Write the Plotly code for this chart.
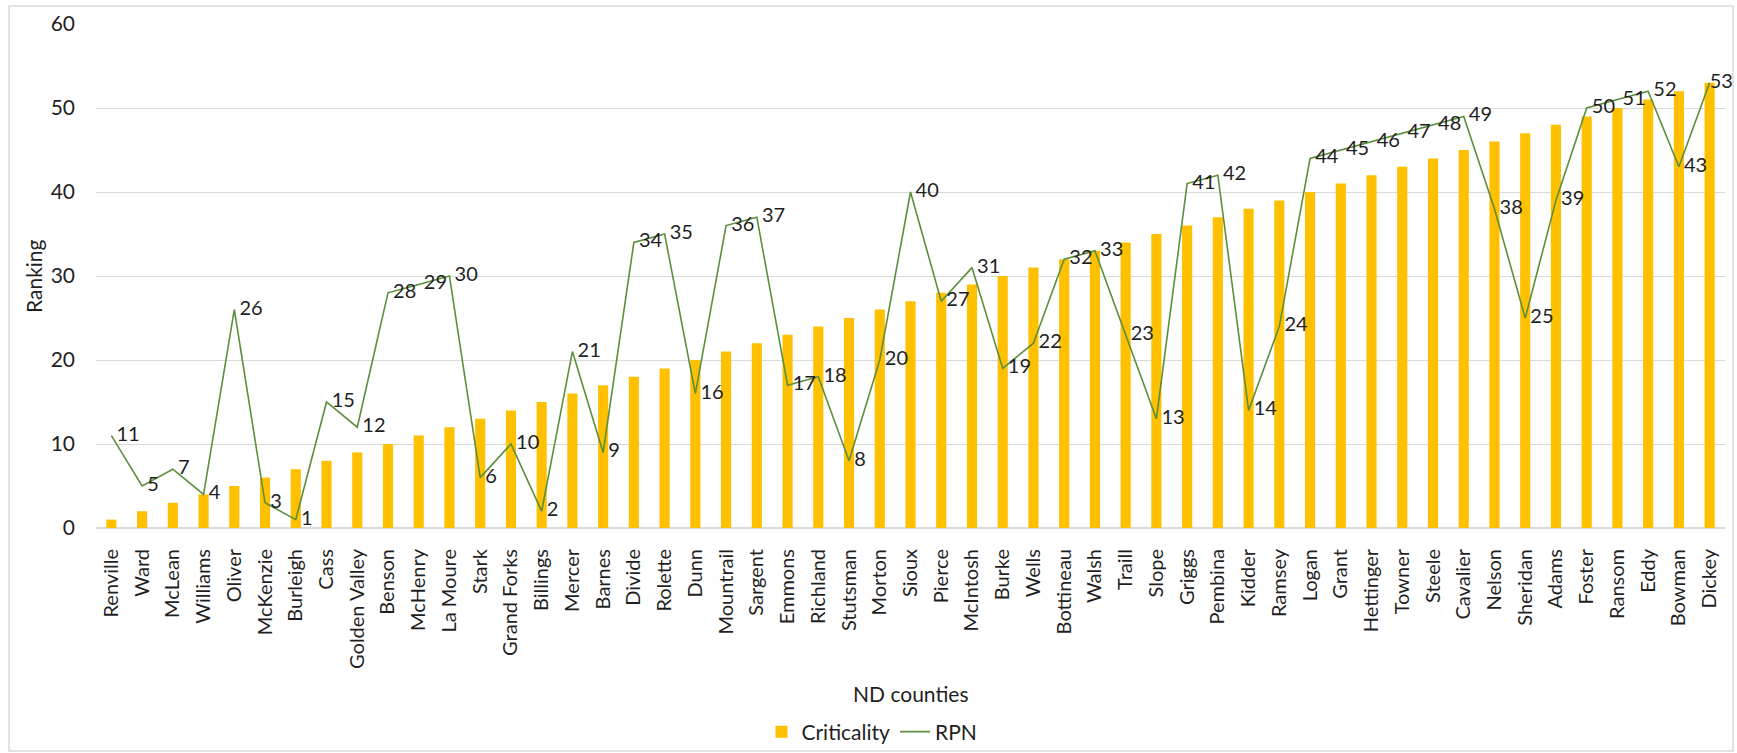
import plotly.graph_objects as go

# ND counties ordered by criticality ranking
counties = [
    "Renville", "Ward", "McLean", "Williams", "Oliver", "McKenzie", "Burleigh",
    "Cass", "Golden Valley", "Benson", "McHenry", "La Moure", "Stark",
    "Grand Forks", "Billings", "Mercer", "Barnes", "Divide", "Rolette", "Dunn",
    "Mountrail", "Sargent", "Emmons", "Richland", "Stutsman", "Morton", "Sioux",
    "Pierce", "McIntosh", "Burke", "Wells", "Bottineau", "Walsh", "Traill",
    "Slope", "Griggs", "Pembina", "Kidder", "Ramsey", "Logan", "Grant",
    "Hettinger", "Towner", "Steele", "Cavalier", "Nelson", "Sheridan", "Adams",
    "Foster", "Ransom", "Eddy", "Bowman", "Dickey",
]

criticality = [
    1, 2, 3, 4, 5, 6, 7, 8, 9, 10, 11, 12, 13, 14, 15, 16, 17, 18, 19, 20,
    21, 22, 23, 24, 25, 26, 27, 28, 29, 30, 31, 32, 33, 34, 35, 36, 37, 38,
    39, 40, 41, 42, 43, 44, 45, 46, 47, 48, 49, 50, 51, 52, 53,
]

rpn = [
    11, 5, 7, 4, 26, 3, 1, 15, 12, 28, 29, 30, 6, 10, 2, 21, 9, 34, 35, 16,
    36, 37, 17, 18, 8, 20, 40, 27, 31, 19, 22, 32, 33, 23, 13, 41, 42, 14,
    24, 44, 45, 46, 47, 48, 49, 38, 25, 39, 50, 51, 52, 43, 53,
]

y_ticks = [0, 10, 20, 30, 40, 50, 60]

FONT = "Lato, 'Open Sans', sans-serif"
TXT = "#1f1f1f"
GRID = "#d9d9d9"

# a leading no-break space keeps value labels clear of their points;
# the last label sits tight against its point so it stays inside the frame
labels = ["\u00a0" + str(v) for v in rpn]
labels[-1] = str(rpn[-1])

fig = go.Figure()
fig.add_trace(go.Bar(
    x=counties, y=criticality, name="Criticality",
    marker=dict(color="#ffc000", line=dict(width=0)),
))
fig.add_trace(go.Scatter(
    x=counties, y=rpn, name="RPN", mode="lines+text",
    line=dict(color="#5b8f3c", width=1.6),
    text=labels, textposition="middle right",
    textfont=dict(family=FONT, size=20, color=TXT),
    cliponaxis=False,
))

# plot-area geometry in pixels, used to place the frame and titles
W, H = 1737, 753
L, R, T, B = 96, 12, 24, 225
pw, ph = W - L - R, H - T - B

def px(xp):
    return (xp - L) / pw

def py(yp):
    return (H - B - yp) / ph

fig.update_layout(
    width=W, height=H,
    margin=dict(l=L, r=R, t=T, b=B, pad=0, autoexpand=False),
    paper_bgcolor="white", plot_bgcolor="white",
    font=dict(family=FONT, size=20, color=TXT),
    bargap=0.67,
    showlegend=True,
    legend=dict(
        orientation="h", x=px(872), xanchor="center", y=py(732), yanchor="middle",
        font=dict(family=FONT, size=21, color=TXT), itemwidth=30,
        traceorder="normal", bgcolor="rgba(0,0,0,0)",
    ),
    xaxis=dict(
        type="category", range=[-0.5, len(counties) - 0.5],
        tickangle=-90, showgrid=False, automargin=False,
        showline=True, linecolor=GRID, linewidth=1,
        ticks="", ticklabelstandoff=12,
        tickfont=dict(family=FONT, size=20, color=TXT),
    ),
    yaxis=dict(
        range=[0, 60], tickvals=y_ticks, showgrid=True, gridcolor=GRID,
        gridwidth=1, zeroline=True, zerolinecolor=GRID, showline=False,
        ticks="", ticklabelstandoff=20, automargin=False,
        tickfont=dict(family=FONT, size=21, color=TXT),
    ),
    annotations=[
        dict(text="Ranking", x=px(33), y=0.5, xref="paper", yref="paper",
             textangle=-90, showarrow=False, xanchor="center", yanchor="middle",
             font=dict(family=FONT, size=21, color=TXT)),
        dict(text="ND counties", x=0.5, y=py(693), xref="paper", yref="paper",
             showarrow=False, xanchor="center", yanchor="middle",
             font=dict(family=FONT, size=21, color=TXT)),
    ],
    shapes=[
        dict(type="rect", xref="paper", yref="paper",
             x0=px(9), x1=px(1733), y0=py(751), y1=py(6),
             line=dict(color=GRID, width=1.5), fillcolor="rgba(0,0,0,0)",
             layer="below"),
    ],
)

fig.write_html("out.html")
